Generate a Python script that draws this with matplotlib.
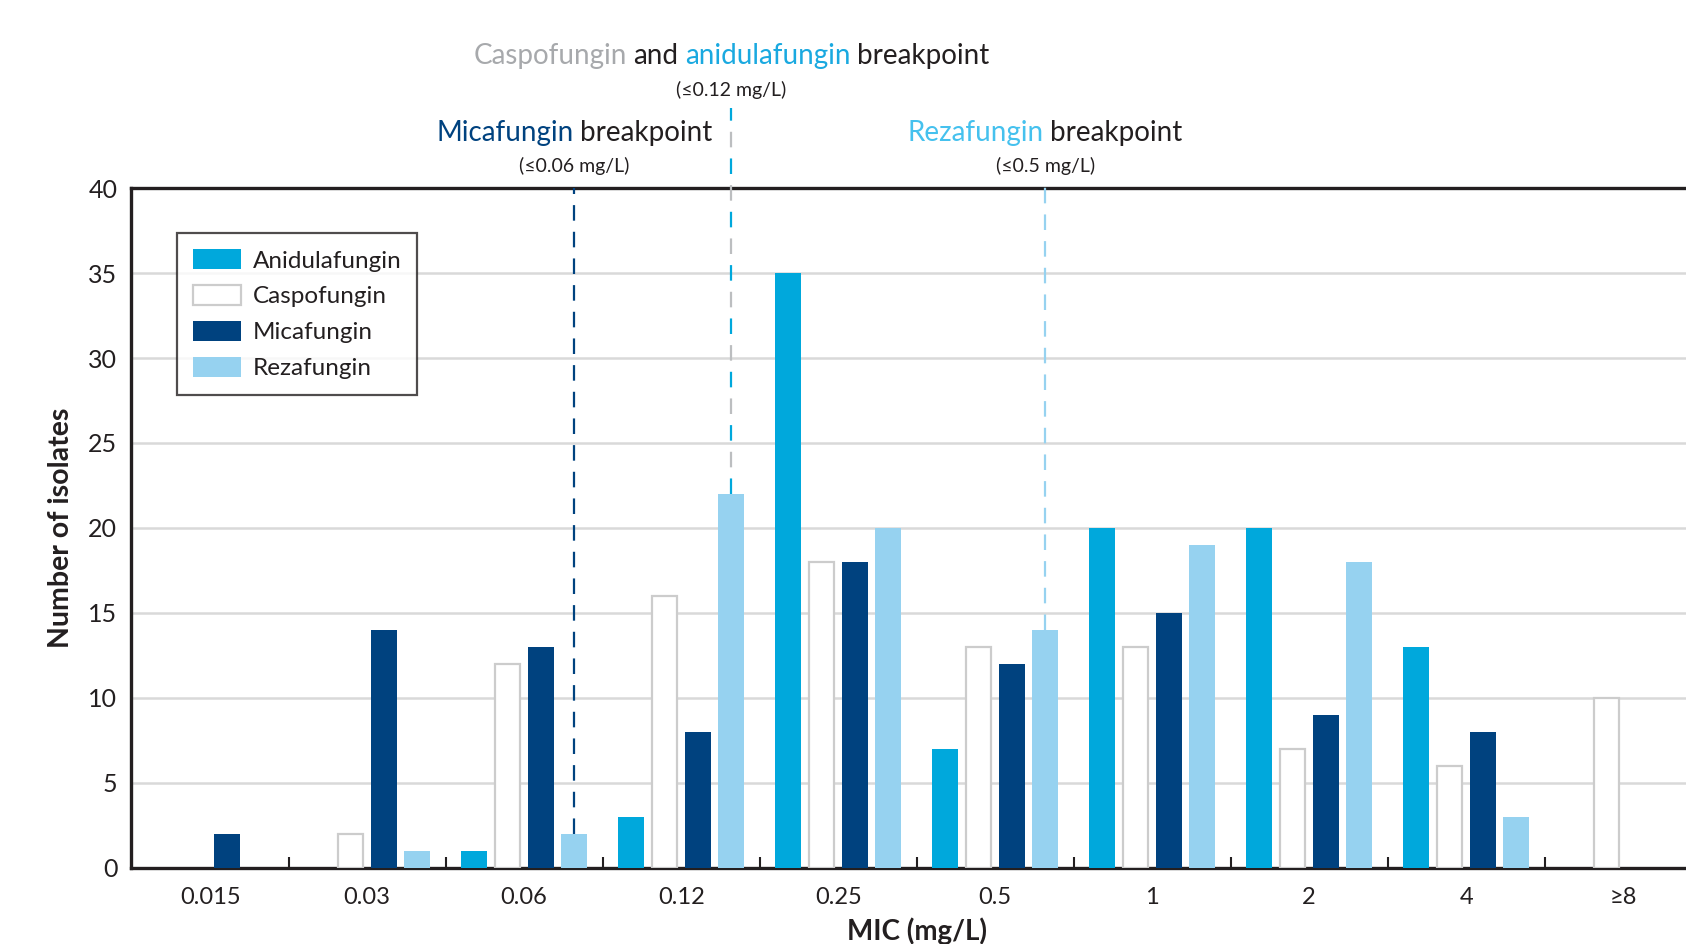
import numpy as np
import matplotlib
matplotlib.use("Agg")
import matplotlib.pyplot as plt
import matplotlib.transforms as mtransforms
from matplotlib.offsetbox import TextArea, HPacker, AnnotationBbox

plt.rcParams['font.family'] = ['Lato', 'DejaVu Sans']

# MIC categories and isolate counts per drug
mic_labels = ['0.015', '0.03', '0.06', '0.12', '0.25', '0.5', '1', '2', '4', '≥8']
anidulafungin = [0, 0, 1, 3, 35, 7, 20, 20, 13, 0]
caspofungin = [0, 2, 12, 16, 18, 13, 13, 7, 6, 10]
micafungin = [2, 14, 13, 8, 18, 12, 15, 9, 8, 0]
rezafungin = [0, 1, 2, 22, 20, 14, 19, 18, 3, 0]

# breakpoints (category index of the line)
mica_bp = 2
caspo_anid_bp = 3
reza_bp = 5

dark = '#231f20'
c_anid = '#00a8dc'
c_mica = '#00427f'
c_reza = '#96d2f0'
c_caspo_edge = '#cccccc'

fig = plt.figure(figsize=(16.86, 9.44), dpi=100)
ax = fig.add_axes([0.0778, 0.0809, 0.9222, 0.7198])

x = np.arange(len(mic_labels))
w = 0.164
step = 0.2125
offs = [-1.5 * step, -0.5 * step, 0.5 * step, 1.5 * step]

ax.bar(x + offs[0], anidulafungin, w, color=c_anid, label='Anidulafungin', zorder=3)
ax.bar(x + offs[1], caspofungin, w, color='white', edgecolor=c_caspo_edge,
       linewidth=[1.6 if v > 0 else 0 for v in caspofungin], label='Caspofungin', zorder=3)
ax.bar(x + offs[2], micafungin, w, color=c_mica, label='Micafungin', zorder=3)
ax.bar(x + offs[3], rezafungin, w, color=c_reza, label='Rezafungin', zorder=3)

ax.set_xlim(-0.503, 9.40)
ax.set_ylim(0, 40)
ax.set_yticks(range(0, 41, 5))
ax.set_xticks(x)
ax.set_xticklabels(mic_labels)
ax.set_xticks(x[:-1] + 0.5, minor=True)
ax.tick_params(axis='x', which='major', length=0, pad=14, labelsize=17, colors=dark)
ax.tick_params(axis='x', which='minor', direction='in', length=8, width=1.5, color=dark)
ax.tick_params(axis='y', length=0, pad=10, labelsize=18, colors=dark)

ax.yaxis.grid(True, color='#d9d9d9', linewidth=1.8)
ax.set_axisbelow(True)
for side in ['left', 'bottom', 'top']:
    ax.spines[side].set_linewidth(2.4)
    ax.spines[side].set_color(dark)
ax.spines['right'].set_visible(False)

# breakpoint lines
lw = 1.6
bx = mica_bp + offs[3]
ax.plot([bx, bx], [rezafungin[mica_bp], 40], color=c_mica, lw=lw,
        dashes=(7, 5), zorder=4, clip_on=False)
bx = caspo_anid_bp + offs[3]
ax.plot([bx, bx], [rezafungin[caspo_anid_bp], 44.7], color=c_anid, lw=lw,
        dashes=(7, 17), zorder=4, clip_on=False)
ax.plot([bx, bx], [rezafungin[caspo_anid_bp], 44.7], color='#bcbec0', lw=lw,
        dashes=(0, 12, 7, 5), zorder=4, clip_on=False)
bx = reza_bp + offs[3]
ax.plot([bx, bx], [rezafungin[reza_bp], 40.5], color=c_reza, lw=lw,
        dashes=(7, 5), zorder=4, clip_on=False)

# breakpoint captions
trans = mtransforms.blended_transform_factory(ax.transData, ax.transAxes)


def caption(xc, y, parts, size):
    boxes = [TextArea(t, textprops=dict(color=c, fontsize=size)) for t, c in parts]
    pack = HPacker(children=boxes, align='baseline', pad=0, sep=4.8)
    ab = AnnotationBbox(pack, (xc, y), xycoords=trans, frameon=False,
                        box_alignment=(0.5, 0.5), annotation_clip=False)
    ax.add_artist(ab)


caption(caspo_anid_bp + offs[3], 1.195,
        [('Caspofungin', '#a7a9ac'), ('and', dark), ('anidulafungin', '#1aa9e0'),
         ('breakpoint', dark)], 20)
caption(caspo_anid_bp + offs[3], 1.144, [('(≤0.12 mg/L)', dark)], 14)
caption(mica_bp + offs[3], 1.081, [('Micafungin', c_mica), ('breakpoint', dark)], 20)
caption(mica_bp + offs[3], 1.032, [('(≤0.06 mg/L)', dark)], 14)
caption(reza_bp + offs[3], 1.081, [('Rezafungin', '#45c1ee'), ('breakpoint', dark)], 20)
caption(reza_bp + offs[3], 1.032, [('(≤0.5 mg/L)', dark)], 14)

ax.text(4.5, -0.093, 'MIC (mg/L)', transform=trans, ha='center', va='center',
        fontsize=20, fontweight='bold', color=dark)
ax.text(-0.045, 0.5, 'Number of isolates', transform=ax.transAxes, rotation=90,
        ha='center', va='center', fontsize=20.5, fontweight='bold', color=dark)

leg = ax.legend(loc='upper left', bbox_to_anchor=(0.0297, 0.9335), borderaxespad=0,
                fontsize=17.5, frameon=True, fancybox=False, handlelength=1.95,
                handleheight=0.9, labelspacing=0.55, borderpad=0.65, handletextpad=0.5)
leg.get_frame().set_edgecolor(dark)
leg.get_frame().set_linewidth(1.6)
leg.legend_handles[1].set_linewidth(1.6)
leg.legend_handles[1].set_edgecolor(c_caspo_edge)
for t in leg.get_texts():
    t.set_color(dark)

fig.savefig('out.png', dpi=100)
